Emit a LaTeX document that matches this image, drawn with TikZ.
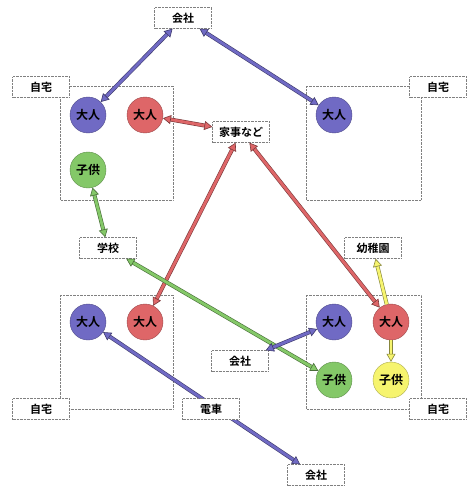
\documentclass[tikz,border=0pt]{standalone}
\usepackage{fontspec}
\setmainfont{Noto Sans CJK JP}[BoldFont={Noto Sans CJK JP Bold}]
\usetikzlibrary{arrows.meta}

\definecolor{kblue}{RGB}{112,106,196}
\definecolor{kred}{RGB}{222,102,104}
\definecolor{kgreen}{RGB}{132,200,104}
\definecolor{kyellow}{RGB}{246,244,110}

\begin{document}
\begin{tikzpicture}[x=1pt,y=-1pt,
  place/.style={draw=gray,densely dotted,fill=white,minimum width=57pt,
    minimum height=21pt,inner sep=1pt,font=\bfseries\fontsize{11}{12}\selectfont},
  house/.style={draw=gray,densely dotted},
  person/.style={circle,draw=#1!70!black,fill=#1,minimum size=36pt,
    inner sep=0pt,font=\bfseries\fontsize{12}{13}\selectfont},
  link/.style={draw=#1!55!black,double=#1,double distance=2.8pt,line width=0.6pt,
    {Triangle[length=8pt,width=9pt,fill=#1]}-{Triangle[length=8pt,width=9pt,fill=#1]}},
  oneway/.style={draw=#1!55!black,double=#1,double distance=2.8pt,line width=0.6pt,
    -{Triangle[length=8pt,width=9pt,fill=#1]}}]
  \useasboundingbox (0,0) rectangle (470,487);

  % houses
  \draw[house] (60,86) rectangle (173,200);
  \draw[house] (306,86) rectangle (421,200);
  \draw[house] (60,295) rectangle (173,409);
  \draw[house] (306,295) rectangle (421,409);
  \node[place] (homeA) at (41,87) {自宅};
  \node[place] (homeB) at (438,87) {自宅};
  \node[place] (homeC) at (41,409) {自宅};
  \node[place] (homeD) at (438,409) {自宅};

  % places
  \node[place] (companyA) at (183,18) {会社};
  \node[place] (chores) at (241,132) {家事など};
  \node[place] (school) at (108,248) {学校};
  \node[place] (kinder) at (373,248) {幼稚園};
  \node[place] (companyB) at (240,361) {会社};
  \node[place] (companyC) at (316,475) {会社};

  % people
  \node[person=kblue] (adultA) at (88,115) {大人};
  \node[person=kred] (mamaA) at (145,115) {大人};
  \node[person=kgreen] (kidA) at (88,170) {子供};
  \node[person=kblue] (adultB) at (334,115) {大人};
  \node[person=kblue] (adultC) at (88,322) {大人};
  \node[person=kred] (mamaC) at (145,322) {大人};
  \node[person=kblue] (adultD) at (334,322) {大人};
  \node[person=kred] (mamaD) at (391,322) {大人};
  \node[person=kgreen] (kidD) at (334,380) {子供};
  \node[person=kyellow] (babyD) at (391,380) {子供};

  % links
  \draw[link=kblue] (companyA) -- (adultA);
  \draw[link=kblue] (companyA) -- (adultB);
  \draw[link=kred] (mamaA) -- (chores);
  \draw[link=kred] (chores) -- (mamaC);
  \draw[link=kred] (chores) -- (mamaD);
  \draw[link=kgreen] (kidA) -- (school);
  \draw[link=kgreen] (school) -- (kidD);
  \draw[link=kblue] (adultD) -- (companyB);
  \draw[link=kblue] (adultC) -- (companyC);
  \draw[oneway=kyellow] (mamaD) -- (kinder);
  \draw[oneway=kyellow] (mamaD) -- (babyD);
  \node[place] (train) at (211,409) {電車};
\end{tikzpicture}
\end{document}
